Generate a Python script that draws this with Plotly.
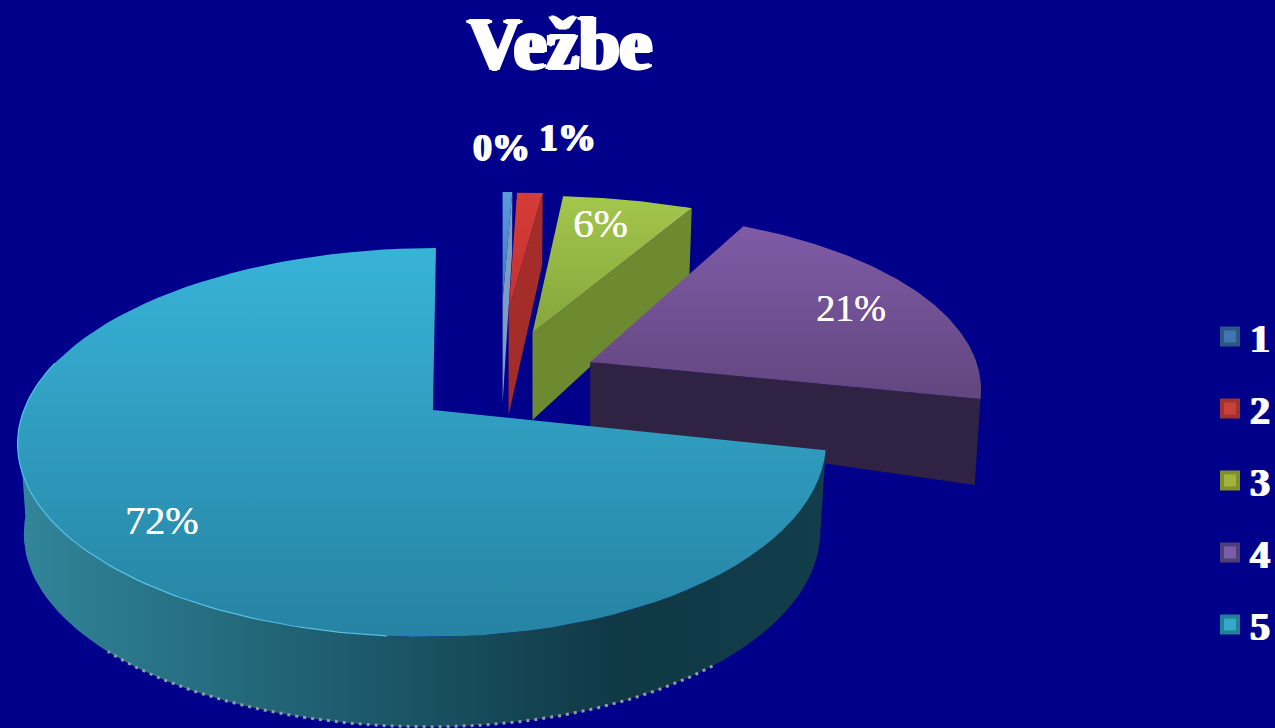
import math
import plotly.graph_objects as go

# ---- data ----
CATEGORIES = ["1", "2", "3", "4", "5"]
VALUES = [0.3, 1.0, 6.0, 21.0, 71.7]
TITLE = "Vežbe"

# ---- styling / layout constants ----
BG = "#00008b"
SERIF = "Liberation Serif"
TOP_COLORS = [("#5b9bdc", "#3f78b8"), ("#d53c37", "#c2332f"), ("#a3c64c", "#84a63c"),
              ("#7f5ba6", "#62467f"), ("#38b3d8", "#2683a3")]
WALL_COLORS = ["#7d9cc4", "#a52d29", "#6d8a30", "#302243", None]
SWATCH = ["#3f78b0", "#c8403a", "#a0b53a", "#7a5fa8", "#35a9c8"]
SWATCH_EDGE = ["#2c5785", "#a03330", "#7f8f2a", "#4f3f78", "#237f98"]
# centre x/y, half-widths right/left, half-height, depth at centre and at rim, x-skew
GEOM = [
    dict(cx=505, cy=300, a=600, al=600, b=126, d0=103, d1=60, skew=0),
    dict(cx=511, cy=310, a=490, al=490, b=137, d0=105, d1=72, skew=0),
    dict(cx=535, cy=333, a=411, al=411, b=160, d0=87, d1=67, skew=2),
    dict(cx=593, cy=362, a=388, al=388, b=174, d0=68, d1=86, skew=5),
    dict(cx=435, cy=410, a=390, al=411, b=189, d0=70, d1=90, skew=3),
]
K = 0.167          # perspective strength
SHRINK = 0.985     # base rim narrower than the top rim
LABEL_POS = [(504, 147), (570, 137), (603, 223), (855, 308), (162, 520)]
LABEL_SIZE = [38, 38, 41, 38, 40]
LABEL_BOLD = [True, True, False, False, False]


def point(g, deg, r=1.0):
    t = math.radians(deg)
    u, v = r * math.sin(t), r * math.cos(t)
    d = 1 + K * v
    a = g["al"] if u < 0 else g["a"]
    return g["cx"] + a * u / d + g["skew"] * v, g["cy"] - g["b"] * v / d


def base_point(g, deg, r=1.0):
    x, y = point(g, deg, r)
    return g["cx"] + (x - g["cx"]) * SHRINK, y + g["d0"] + (g["d1"] - g["d0"]) * r


def arc(fn, g, a0, a1, n=90):
    pts = [fn(g, a0 + (a1 - a0) * i / n) for i in range(n + 1)]
    return [p[0] for p in pts], [p[1] for p in pts]


total = sum(VALUES)
edges = [0.0]
for val in VALUES:
    edges.append(edges[-1] + val / total * 360)

fig = go.Figure()

for i, name in enumerate(CATEGORIES):
    g, a0, a1 = GEOM[i], edges[i], edges[i + 1]
    c = (g["cx"], g["cy"])
    # side wall
    if i == 4:
        xt, yt = arc(point, g, a0, 265)
        xb, yb = arc(base_point, g, a0, 265)
        fig.add_trace(go.Scatter(
            x=xt + xb[::-1], y=yt + yb[::-1], mode="lines", fill="toself", line=dict(width=0),
            fillgradient=dict(type="horizontal", start=25, stop=825,
                              colorscale=[[0, "#318499"], [0.45, "#1b5768"], [0.75, "#103845"], [1, "#123d4a"]]),
            showlegend=False, hoverinfo="skip"))
        xd, yd = arc(base_point, g, 140, 225)
        fig.add_trace(go.Scatter(x=xd, y=yd, mode="lines", showlegend=False, hoverinfo="skip",
                                 line=dict(color="#8d9ea6", width=3, dash="3px,5px")))
    else:
        rim = point(g, a1)
        rim_b = base_point(g, a1)
        apex_b = base_point(g, a1, 0.0)
        fig.add_trace(go.Scatter(
            x=[c[0], rim[0], rim_b[0], apex_b[0], c[0]],
            y=[c[1], rim[1], rim_b[1], apex_b[1], c[1]],
            mode="lines", fill="toself", fillcolor=WALL_COLORS[i], line=dict(width=0),
            showlegend=False, hoverinfo="skip"))
    # top face
    xa, ya = arc(point, g, a0, a1)
    xs = [c[0]] + xa + [c[0]]
    ys = [c[1]] + ya + [c[1]]
    fig.add_trace(go.Scatter(
        x=xs, y=ys, mode="lines", fill="toself", line=dict(width=0),
        fillgradient=dict(type="vertical", start=min(ys), stop=max(ys),
                          colorscale=[[0, TOP_COLORS[i][0]], [1, TOP_COLORS[i][1]]]),
        showlegend=False, hoverinfo="skip"))
    if i == 4:
        xh, yh = arc(point, g, 185, 285)
        fig.add_trace(go.Scatter(x=xh, y=yh, mode="lines", showlegend=False, hoverinfo="skip",
                                 line=dict(color="#55c4e4", width=1.2)))

# legend entries
for i, name in enumerate(CATEGORIES):
    fig.add_trace(go.Scatter(
        x=[None], y=[None], mode="markers", name=name, legendgroup=name,
        marker=dict(symbol="square", size=16, color=SWATCH[i],
                    line=dict(color=SWATCH_EDGE[i], width=4))))

annotations = []
for i, val in enumerate(VALUES):
    text = f"{round(val / total * 100)}%"
    shadow = "1px 0 0 #fff, -1px 0 0 #fff, 0 1px 0 #fff" if LABEL_BOLD[i] else "0.5px 0 0 #fff"
    annotations.append(dict(
        x=LABEL_POS[i][0], y=LABEL_POS[i][1], xref="x", yref="y", text=text, showarrow=False,
        font=dict(family=SERIF, size=LABEL_SIZE[i], color="white",
                  weight="bold" if LABEL_BOLD[i] else "normal", shadow=shadow)))

fig.update_layout(
    width=1275, height=728, autosize=False,
    margin=dict(l=0, r=0, t=0, b=0),
    paper_bgcolor=BG, plot_bgcolor=BG,
    xaxis=dict(range=[0, 1275], visible=False, fixedrange=True),
    yaxis=dict(range=[728, 0], visible=False, fixedrange=True),
    title=dict(text=TITLE, x=560 / 1275, xanchor="center", y=1 - 43 / 728, yanchor="middle",
               font=dict(family=SERIF, size=73, color="white", weight="bold",
                         shadow="2.5px 0 0 #fff, -2.5px 0 0 #fff, 0 1px 0 #fff, 0 -1px 0 #fff")),
    legend=dict(x=1216 / 1275, xanchor="left", y=1 - 304 / 728, yanchor="top",
                font=dict(family=SERIF, size=40, color="white", weight="bold",
                          shadow="1px 0 0 #fff, -1px 0 0 #fff"),
                bgcolor="rgba(0,0,0,0)", itemclick=False, itemdoubleclick=False,
                tracegroupgap=17, itemwidth=30),
    annotations=annotations,
    showlegend=True,
)

fig.write_html("out.html", config={"displayModeBar": False},
               post_script="document.body.style.margin='0';document.body.style.overflow='hidden';"
                           "document.body.style.background='" + BG + "';")
